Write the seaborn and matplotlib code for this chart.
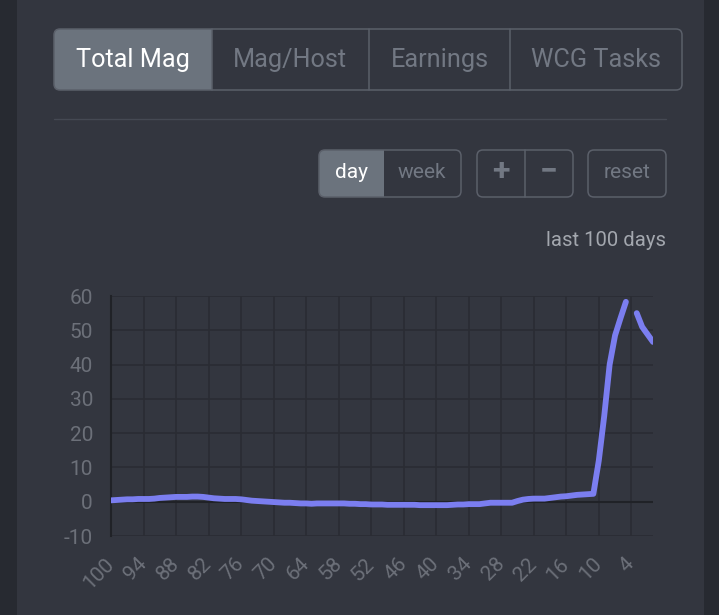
import numpy as np
import pandas as pd
import matplotlib
matplotlib.use("Agg")
import matplotlib.pyplot as plt
import seaborn as sns
from matplotlib.patches import FancyBboxPatch, Rectangle

# days ago, 100 -> 0
days = list(range(100, -1, -1))
total_mag = [
    0.4, 0.5, 0.6, 0.7, 0.7, 0.8, 0.8, 0.8, 0.9, 1.1,     # 100..91
    1.2, 1.3, 1.4, 1.4, 1.4, 1.5, 1.5, 1.4, 1.2, 1.0,     # 90..81
    0.9, 0.8, 0.8, 0.8, 0.7, 0.5, 0.3, 0.2, 0.1, 0.0,     # 80..71
    -0.1, -0.2, -0.3, -0.3, -0.4, -0.5, -0.5, -0.6, -0.5, -0.5,   # 70..61
    -0.5, -0.5, -0.5, -0.5, -0.6, -0.6, -0.7, -0.7, -0.8, -0.8,   # 60..51
    -0.8, -0.9, -0.9, -0.9, -0.9, -0.9, -0.9, -1.0, -1.0, -1.0,   # 50..41
    -1.0, -1.0, -1.0, -0.9, -0.8, -0.8, -0.7, -0.7, -0.7, -0.5,   # 40..31
    -0.3, -0.3, -0.3, -0.3, -0.3, 0.2, 0.6, 0.8, 0.9, 0.9,        # 30..21
    0.9, 1.1, 1.3, 1.5, 1.6, 1.8, 2.0, 2.1, 2.2, 2.3,             # 20..11
    12.0, 25.0, 40.0, 48.5, 53.5, 58.3, np.nan, 55.0, 51.0, 48.8,  # 10..1
    46.6,                                                           # 0
]
x_ticks = list(range(100, 0, -6))
y_ticks = [-10, 0, 10, 20, 30, 40, 50, 60]

tabs = ["Total Mag", "Mag/Host", "Earnings", "WCG Tasks"]
periods = ["day", "week"]

W, H = 719, 615
bg = "#33363f"
side = "#272a31"
border = "#5b606a"
active = "#6b737d"
muted = "#727883"
line_col = "#7b7ef0"

sns.set_style("dark")
plt.rcParams["font.family"] = ["Roboto", "DejaVu Sans"]
plt.rcParams["axes.unicode_minus"] = False

fig = plt.figure(figsize=(W / 100, H / 100), dpi=100, facecolor=bg)

# page layer in pixel coordinates
ui = fig.add_axes([0, 0, 1, 1], zorder=0)
ui.set_xlim(0, W)
ui.set_ylim(H, 0)
ui.axis("off")
ui.add_patch(Rectangle((0, 0), 17, H, color=side, lw=0))
ui.add_patch(Rectangle((704, 0), W - 704, H, color=side, lw=0))


def rbox(x0, y0, x1, y1, fc="none", ec=border, r=6, z=1):
    ui.add_patch(FancyBboxPatch((x0, y0), x1 - x0, y1 - y0,
                                boxstyle=f"round,pad=0,rounding_size={r}",
                                fc=fc, ec=ec, lw=1.1, zorder=z))


# tab bar
rbox(54, 29, 212, 90, fc=active, ec="none", z=1)
ui.add_patch(Rectangle((195, 29), 17, 61, color=active, lw=0, zorder=1))
rbox(54, 29, 682, 90, z=2)
for xd in [212, 369, 510]:
    ui.plot([xd, xd], [29, 90], color=border, lw=1.1, zorder=2)
tab_cx = [133, 290, 440, 596]
for i, (t, cx) in enumerate(zip(tabs, tab_cx)):
    ui.text(cx, 60, t, ha="center", va="center", fontsize=18.2,
            color="white" if i == 0 else muted, zorder=3)

ui.plot([54, 666], [119, 119], color="#454953", lw=1, zorder=1)

# day / week toggle
rbox(319, 150, 384, 197, fc=active, ec="none", z=1)
ui.add_patch(Rectangle((370, 150), 14, 47, color=active, lw=0, zorder=1))
rbox(319, 150, 461, 197, z=2)
ui.text(352, 172, periods[0], ha="center", va="center", fontsize=15, color="white", zorder=3)
ui.text(422, 172, periods[1], ha="center", va="center", fontsize=15, color=muted, zorder=3)

# zoom buttons
rbox(477, 150, 573, 197, z=2)
ui.plot([525, 525], [150, 197], color=border, lw=1.1, zorder=2)
ui.text(501, 171, "+", ha="center", va="center", fontsize=23, fontweight="bold", color=muted, zorder=3)
ui.text(549, 171, "\u2212", ha="center", va="center", fontsize=23, fontweight="bold", color=muted, zorder=3)

rbox(588, 150, 666, 197, z=2)
ui.text(627, 172, "reset", ha="center", va="center", fontsize=15, color=muted, zorder=3)

ui.text(666, 240, "last 100 days", ha="right", va="center", fontsize=14.6, color="#a3a7ae", zorder=3)

# chart
ax = fig.add_axes([111 / W, 79 / H, (653 - 111) / W, (536 - 296) / H], zorder=1)
ax.set_facecolor("none")

df = pd.DataFrame({"day": days, "mag": total_mag})
df["seg"] = (df["day"] < 4).astype(int)
df = df.dropna()
for _, part in df.groupby("seg"):
    sns.lineplot(data=part, x="day", y="mag", ax=ax, color=line_col, lw=4.2,
                 solid_capstyle="round", solid_joinstyle="round", zorder=3)

ax.set_xlim(100, 0)
ax.set_ylim(-10, 60)
ax.set_xticks(x_ticks)
ax.set_yticks(y_ticks)
ax.set_xticklabels([str(v) for v in x_ticks], rotation=45, ha="right",
                   va="center", rotation_mode="anchor")
ax.set_xlabel("")
ax.set_ylabel("")
ax.grid(True, color="#2a2c33", lw=1.2)
ax.axhline(0, color="#202227", lw=1.5, zorder=2)
for s in ["top", "right", "bottom"]:
    ax.spines[s].set_visible(False)
ax.spines["left"].set_color("#202227")
ax.spines["left"].set_linewidth(1.5)
ax.tick_params(axis="both", colors="#6c7079", labelsize=15, width=1.2)
ax.tick_params(axis="x", color="#2a2c33", length=11, pad=7)
ax.tick_params(axis="y", color="#2a2c33", length=12, pad=1)

fig.savefig("out.png", dpi=100, facecolor=bg)
